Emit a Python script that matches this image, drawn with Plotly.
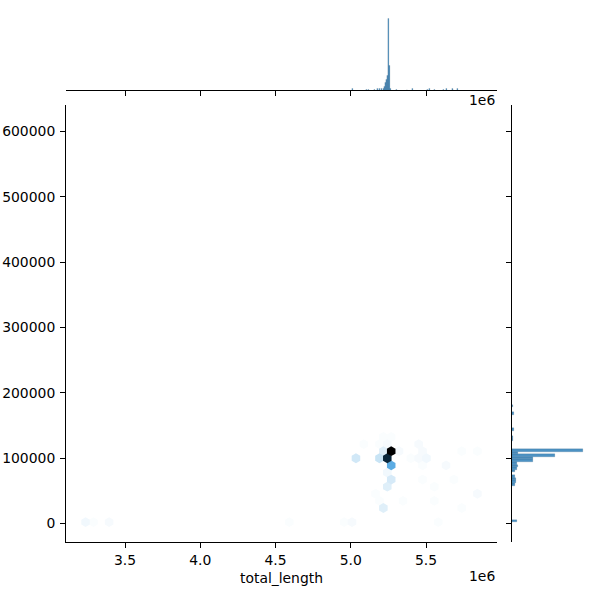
import colorsys
import numpy as np
import plotly.graph_objects as go

# ---------------- data ----------------
# joint hexbin: representative (total_length, value, count) per visible hexagon
hex_x = [5259600, 5233000, 5259600, 5177900, 5204500, 5027200, 5314700, 5237700,
         5204500, 5259600, 5259600, 5233000, 5204500, 5237700, 5082300, 5436900,
         5372500, 5425600, 5492000, 5525200, 5458800, 5624800, 5724400, 5841000,
         5547100, 5669300, 5724400, 5841000, 5337300, 5547100, 5724400, 4994000,
         4949500, 5569700, 5470100, 5104900, 5193200, 5171300, 3238000, 3285500,
         3391800, 4117500, 4585600, 5414300, 5259600, 5591600, 5513900, 5580300,
         5646700, 5370500, 5841000, 5414300, 5569700, 5646700, 5480700, 5636100,
         5636100, 5447500, 5812700, 5841000, 5392400, 5492000, 5702500, 5215100,
         5513900, 5492000, 5447500, 5547100]
hex_y = [111200, 101100, 89800, 101100, 111200, 101100, 111200, 122500,
         122500, 132700, 67400, 57100, 25400, 79000, 122500, 122500,
         101100, 101100, 109200, 101100, 89800, 89800, 111200, 111200,
         57100, 66300, 57100, 46000, 35700, 35700, 25400, 2000,
         2000, 2000, 68900, 68900, 35700, 46000, 2000, 2000,
         2000, 2000, 2000, 285800, 262900, 252700, 242500, 242500,
         230700, 219500, 219500, 199100, 186300, 181200, 165900, 165900,
         155600, 155600, 171000, 176200, 145500, 145500, 142900, 132700,
         610000, 599900, 339500, 339500]
hex_n = [100, 87, 40, 16, 11, 14, 6, 6,
         5, 5, 13, 11, 11, 7, 5, 6,
         5, 6, 6, 7, 5, 6, 5, 5,
         5, 5, 4, 6, 5, 5, 5, 6,
         5, 5, 5, 4, 5, 5, 7, 5,
         6, 4, 5, 4, 4, 4, 4, 4,
         4, 4, 4, 4, 4, 4, 4, 4,
         4, 4, 4, 4, 4, 4, 4, 5,
         4, 4, 4, 4]

# top marginal histogram (total_length values, counts)
top_x = [5251000, 5258000, 5244000, 5237500, 5231000, 5224000, 5215000, 5205000,
         5265000, 5009000, 5105000, 5122000, 5160000, 5175000, 5193000, 5299000,
         5371000, 5410000, 5507000, 5525000, 5552000, 5613000, 5631000, 5669000,
         5680000, 5713000]
top_n = [100, 34, 21, 15, 10, 5, 3, 2,
         3, 2, 1, 1, 1, 2, 2, 1,
         1, 2, 1, 2, 1, 1, 2, 2,
         1, 2]

# right marginal histogram (values, counts)
right_y = [113350, 109680, 104620, 101100, 96960, 92830, 88840, 85170, 81650,
           72450, 68930, 63720, 60200, 168500, 144000, 131700, 126000, 5050,
           181200]
right_n = [140, 11, 85, 41, 41, 9, 11, 9, 5,
           6, 7, 8, 6, 3, 3, 2, 1, 9,
           1]

x_tick_vals = [3.5e6, 4.0e6, 4.5e6, 5.0e6, 5.5e6]
x_tick_text = ["3.5", "4.0", "4.5", "5.0", "5.5"]
y_tick_vals = [0, 100000, 200000, 300000, 400000, 500000, 600000]
y_tick_text = ["0", "100000", "200000", "300000", "400000", "500000", "600000"]

GRIDSIZE = 50
TOP_BIN = 6500
RIGHT_BIN = 4000

# ---------------- hexagonal binning (matplotlib-style) ----------------
x = np.asarray(hex_x, float)
y = np.asarray(hex_y, float)
w = np.asarray(hex_n, float)
nx = GRIDSIZE
ny = int(nx / np.sqrt(3))
xmin, xmax = x.min(), x.max()
ymin, ymax = y.min(), y.max()
pad = 1e-9 * (xmax - xmin)
xmin -= pad
xmax += pad
sx = (xmax - xmin) / nx
sy = (ymax - ymin) / ny
ix = (x - xmin) / sx
iy = (y - ymin) / sy
ix1, iy1 = np.round(ix), np.round(iy)
ix2, iy2 = np.floor(ix), np.floor(iy)
d1 = (ix - ix1) ** 2 + 3.0 * (iy - iy1) ** 2
d2 = (ix - ix2 - 0.5) ** 2 + 3.0 * (iy - iy2 - 0.5) ** 2
b = d1 < d2
cx = np.where(b, ix1, ix2 + 0.5) * sx + xmin
cy = np.where(b, iy1, iy2 + 0.5) * sy + ymin
cells = {}
for a, c, n in zip(cx, cy, w):
    k = (round(a, 2), round(c, 2))
    cells[k] = cells.get(k, 0) + n
items = sorted(cells.items(), key=lambda kv: kv[1])
hx = [k[0] for k, _ in items]
hy = [k[1] for k, _ in items]
hn = [v for _, v in items]

# axis ranges like matplotlib autoscale (5% margins)
xr = [xmin - 0.05 * (xmax - xmin), xmax + 0.05 * (xmax - xmin)]
yr = [ymin - 0.05 * (ymax - ymin), ymax + 0.05 * (ymax - ymin)]

# layout geometry (pixels in 600x600 figure)
W = H = 600
L, R = 66, 497
T, B = 105, 542
TOP_T, TOP_B = 14.6, 90.3
RM_L, RM_R = 511.9, 586.2

# colormap: seaborn hex cmap (lightness 1 -> 0 at the C0 hue)
h_, l_, s_ = colorsys.rgb_to_hls(31 / 255, 119 / 255, 180 / 255)
cs = []
for i, lv in enumerate(np.linspace(1, 0, 12)):
    r, g, bb = colorsys.hls_to_rgb(h_, lv, s_)
    cs.append([i / 11, "rgb(%d,%d,%d)" % (round(r * 255), round(g * 255), round(bb * 255))])

px_per_y = (B - T) / (yr[1] - yr[0])
hex_size = (2 * sy / 3) * px_per_y + 0.4

fig = go.Figure()
fig.add_trace(go.Scatter(
    x=hx, y=hy, mode="markers", xaxis="x", yaxis="y",
    marker=dict(symbol="hexagon", size=hex_size, color=hn, colorscale=cs,
                cmin=min(hn), cmax=max(hn), line=dict(width=0)),
    hoverinfo="skip", showlegend=False))

# marginal histograms
top_edges = np.arange(xmin, xmax + TOP_BIN, TOP_BIN)
top_max = np.histogram(top_x, bins=top_edges, weights=top_n)[0].max()
right_edges = np.arange(ymin, ymax + RIGHT_BIN, RIGHT_BIN)
right_max = np.histogram(right_y, bins=right_edges, weights=right_n)[0].max()

bar_fill = "rgba(31,119,180,0.8)"
bar_line = dict(color="rgba(25,60,90,0.6)", width=0.25)
fig.add_trace(go.Histogram(
    x=top_x, y=top_n, histfunc="sum", xaxis="x2", yaxis="y2",
    xbins=dict(start=xmin, end=xmax + TOP_BIN, size=TOP_BIN),
    marker=dict(color=bar_fill, line=bar_line),
    showlegend=False, hoverinfo="skip"))
fig.add_trace(go.Histogram(
    y=right_y, x=right_n, histfunc="sum", orientation="h", xaxis="x3", yaxis="y3",
    ybins=dict(start=ymin, end=ymax + RIGHT_BIN, size=RIGHT_BIN),
    marker=dict(color=bar_fill, line=bar_line),
    showlegend=False, hoverinfo="skip"))

font = dict(family="DejaVu Sans", size=13.9, color="black")
axis_common = dict(showgrid=False, zeroline=False, showline=True, linecolor="black",
                   linewidth=1, ticks="outside", ticklen=5, tickwidth=1,
                   tickcolor="black", tickfont=font, automargin=False)

fig.update_layout(
    width=W, height=H, margin=dict(l=0, r=0, t=0, b=0),
    paper_bgcolor="white", plot_bgcolor="white", bargap=0, showlegend=False,
    xaxis=dict(domain=[L / W, R / W], anchor="y", range=xr,
               tickvals=x_tick_vals, ticktext=x_tick_text, **axis_common),
    yaxis=dict(domain=[1 - B / H, 1 - T / H], anchor="x", range=yr,
               tickvals=y_tick_vals, ticktext=y_tick_text, ticklabelstandoff=2,
               **axis_common),
    xaxis2=dict(domain=[L / W, R / W], anchor="y2", matches="x",
                tickvals=x_tick_vals, showticklabels=False, **axis_common),
    yaxis2=dict(domain=[1 - TOP_B / H, 1 - TOP_T / H], anchor="x2",
                range=[0, top_max * 1.05], visible=False),
    xaxis3=dict(domain=[RM_L / W, RM_R / W], anchor="y3",
                range=[0, right_max * 1.05], visible=False),
    yaxis3=dict(domain=[1 - B / H, 1 - T / H], anchor="x3", matches="y",
                tickvals=y_tick_vals, showticklabels=False, **axis_common),
    annotations=[
        dict(text="total_length", x=(L + R) / 2 / W, y=1 - 578 / H, xref="paper",
             yref="paper", showarrow=False, font=font, xanchor="center", yanchor="middle"),
        dict(text="1e6", x=R / W, y=1 - 576 / H, xref="paper", yref="paper",
             showarrow=False, font=font, xanchor="right", yanchor="middle"),
        dict(text="1e6", x=R / W, y=1 - 100 / H, xref="paper", yref="paper",
             showarrow=False, font=font, xanchor="right", yanchor="middle"),
    ],
)

fig.write_html("out.html", config={"displayModeBar": False},
               post_script="document.body.style.margin='0px';")
